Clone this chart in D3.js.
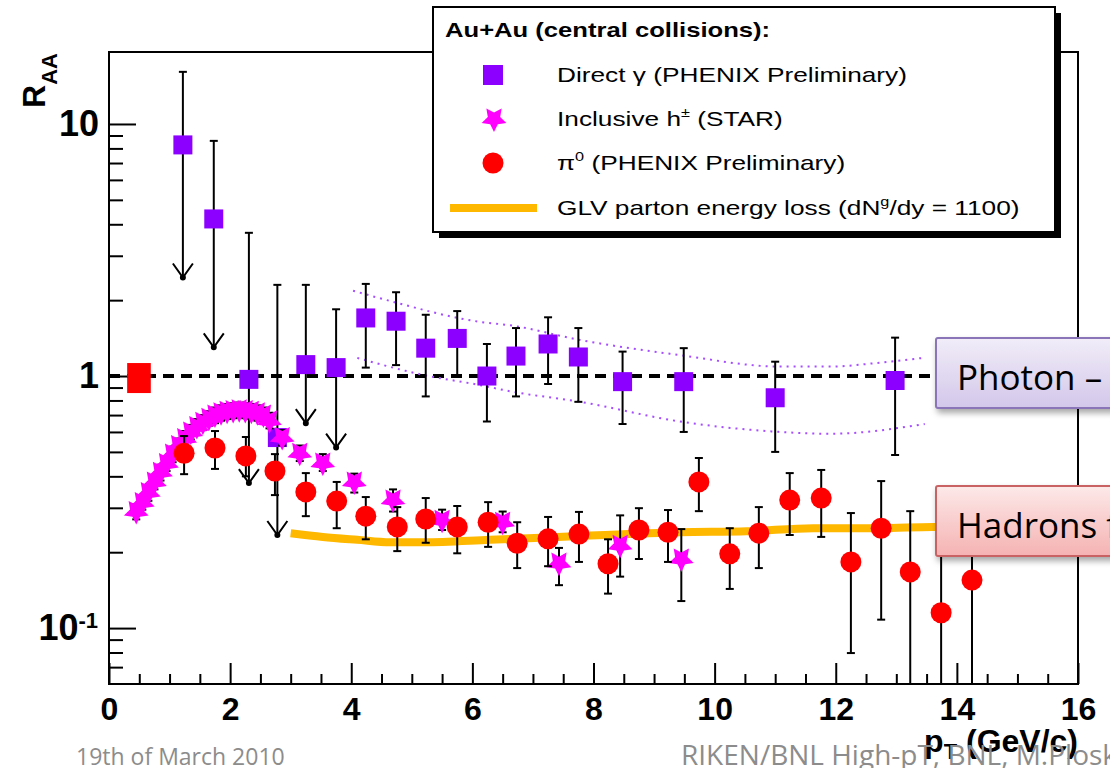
<!DOCTYPE html>
<html>
<head>
<meta charset="utf-8">
<script src="https://cdn.jsdelivr.net/npm/d3@7"></script>
<style>
  body { margin: 0; background: #fff; }
  svg { display: block; }
</style>
</head>
<body>
<svg id="chart" width="1110" height="768"></svg>
<script>
// ---- data ----
// direct photons (PHENIX prelim.), first 6 points are upper limits (arrow down)
var photonPt  = [1.22, 1.73, 2.31, 2.78, 3.25, 3.75, 4.24, 4.74, 5.23, 5.75, 6.24, 6.72, 7.25, 7.75, 8.48, 9.49, 11.0, 12.98];
var photonR   = [8.26, 4.2, 0.97, 0.57, 1.11, 1.08, 1.70, 1.65, 1.29, 1.41, 1.0, 1.20, 1.34, 1.19, 0.95, 0.95, 0.82, 0.96];
var photonHi  = [16.1, 8.57, 3.7, 2.30, 2.30, 1.84, 2.32, 2.15, 1.75, 1.81, 1.34, 1.55, 1.71, 1.55, 1.25, 1.29, 1.14, 1.42];
var photonLo  = [2.46, 1.30, 0.376, 0.234, 0.65, 0.52, 1.08, 1.105, 0.83, 1.0, 0.66, 0.83, 0.93, 0.79, 0.645, 0.60, 0.50, 0.486];
var photonLim = [1, 1, 1, 1, 1, 1, 0, 0, 0, 0, 0, 0, 0, 0, 0, 0, 0, 0];

// inclusive h+- (STAR)
var hPt = [0.45, 0.55, 0.65, 0.75, 0.85, 0.95, 1.05, 1.15, 1.25, 1.35, 1.45, 1.55, 1.65, 1.75, 1.85, 1.95, 2.05, 2.15, 2.25, 2.35, 2.45, 2.55, 2.65, 2.86,
           3.15, 3.53, 4.05, 4.69, 5.50, 6.5, 7.43, 8.44, 9.45];
var hR  = [0.29, 0.315, 0.345, 0.38, 0.415, 0.45, 0.49, 0.53, 0.565, 0.60, 0.63, 0.655, 0.68, 0.70, 0.715, 0.725, 0.73, 0.735, 0.73, 0.725, 0.715, 0.70, 0.665, 0.57,
           0.494, 0.452, 0.38, 0.322, 0.268, 0.263, 0.181, 0.213, 0.188];
var hHi = [0.31, 0.335, 0.37, 0.405, 0.445, 0.48, 0.525, 0.565, 0.605, 0.64, 0.675, 0.70, 0.725, 0.75, 0.765, 0.775, 0.78, 0.785, 0.78, 0.775, 0.765, 0.75, 0.715, 0.61,
           0.53, 0.49, 0.41, 0.355, 0.295, 0.29, 0.208, 0.28, 0.247];
var hLo = [0.27, 0.295, 0.32, 0.355, 0.385, 0.42, 0.455, 0.495, 0.525, 0.56, 0.585, 0.61, 0.635, 0.65, 0.665, 0.675, 0.68, 0.685, 0.68, 0.675, 0.665, 0.65, 0.62, 0.53,
           0.46, 0.42, 0.345, 0.29, 0.245, 0.24, 0.148, 0.16, 0.128];

// pi0 (PHENIX prelim.)
var pi0Pt = [1.24, 1.75, 2.26, 2.74, 3.25, 3.76, 4.24, 4.76, 5.23, 5.75, 6.26, 6.74, 7.25, 7.76, 8.24, 8.75, 9.23, 9.74, 10.25, 10.73, 11.24, 11.76, 12.25, 12.75, 13.23, 13.74, 14.25];
var pi0R  = [0.494, 0.518, 0.482, 0.42, 0.347, 0.319, 0.278, 0.252, 0.271, 0.252, 0.263, 0.217, 0.226, 0.236, 0.18, 0.245, 0.24, 0.38, 0.197, 0.238, 0.322, 0.328, 0.183, 0.249, 0.167, 0.115, 0.155];
var pi0Hi = [0.578, 0.605, 0.573, 0.49, 0.412, 0.38, 0.331, 0.302, 0.328, 0.305, 0.316, 0.263, 0.276, 0.289, 0.225, 0.299, 0.294, 0.473, 0.249, 0.302, 0.412, 0.424, 0.286, 0.383, 0.291, 0.22, 0.26];
var pi0Lo = [0.408, 0.428, 0.40, 0.337, 0.278, 0.249, 0.225, 0.202, 0.218, 0.198, 0.21, 0.173, 0.176, 0.183, 0.137, 0.188, 0.183, 0.291, 0.143, 0.173, 0.234, 0.23, 0.0796, 0.108, 0.03, 0.03, 0.03];

// GLV parton energy loss curve
var glvPt = [3.0, 3.53, 4.1, 4.64, 5.19, 6.29, 7.78, 9.43, 10.53, 11.63, 12.73, 13.6, 14.0];
var glvR  = [0.238, 0.23, 0.224, 0.219, 0.219, 0.224, 0.232, 0.24, 0.242, 0.249, 0.249, 0.252, 0.252];

// dotted photon band
var bandUpPt = [4.03, 4.59, 6.13, 6.62, 7.78, 9.43, 11.08, 11.9, 12.73, 13.44];
var bandUpR  = [2.18, 2.0, 1.64, 1.59, 1.39, 1.21, 1.09, 1.09, 1.13, 1.18];
var bandLoPt = [4.10, 5.19, 6.13, 6.62, 7.78, 9.43, 11.08, 11.9, 13.47];
var bandLoR  = [1.18, 1.01, 0.92, 0.87, 0.79, 0.66, 0.60, 0.59, 0.645];

// normalisation box at R=1
var normBox = {x0: 0.3, x1: 0.69, y0: 0.856, y1: 1.126};

var xMajorTicks = [0, 2, 4, 6, 8, 10, 12, 14, 16];
var xMinorTicks = [0.5, 1, 1.5, 2.5, 3, 3.5, 4.5, 5, 5.5, 6.5, 7, 7.5, 8.5, 9, 9.5, 10.5, 11, 11.5, 12.5, 13, 13.5, 14.5, 15, 15.5];
var yMajorTicks = [0.1, 1, 10];
var yMinorTicks = [0.07, 0.08, 0.09, 0.2, 0.3, 0.4, 0.5, 0.6, 0.7, 0.8, 0.9, 2, 3, 4, 5, 6, 7, 8, 9];

var svg = d3.select("#chart");
var pLeft = 109, pRight = 1078, pTop = 52, pBottom = 684;

var x = d3.scaleLinear().domain([0, 16]).range([pLeft, pRight]);
var y = d3.scaleLog().domain([0.06, 19.3]).range([pBottom, pTop]);

var cPurple = "#8c00ff", cMag = "#ff00ff", cRed = "#ff0000", cOrange = "#ffb800";

var defs = svg.append("defs");
defs.append("clipPath").attr("id", "plotclip")
  .append("rect").attr("x", pLeft).attr("y", pTop).attr("width", pRight - pLeft).attr("height", pBottom - pTop);
var sh = defs.append("filter").attr("id", "shadow").attr("x", "-10%").attr("y", "-20%").attr("width", "130%").attr("height", "160%");
sh.append("feDropShadow").attr("dx", 2).attr("dy", 4).attr("stdDeviation", 3).attr("flood-color", "#000").attr("flood-opacity", 0.35);
var gP = defs.append("linearGradient").attr("id", "gradPurple").attr("x1", 0).attr("y1", 0).attr("x2", 0).attr("y2", 1);
gP.append("stop").attr("offset", "0%").attr("stop-color", "#f1edf8");
gP.append("stop").attr("offset", "100%").attr("stop-color", "#d3c7ea");
var gR = defs.append("linearGradient").attr("id", "gradRed").attr("x1", 0).attr("y1", 0).attr("x2", 0).attr("y2", 1);
gR.append("stop").attr("offset", "0%").attr("stop-color", "#fde9e9");
gR.append("stop").attr("offset", "100%").attr("stop-color", "#f5b2b2");

// ---- axes (ticks point inward, ROOT style) ----
function styleAxis(g) {
  g.select(".domain").remove();
  g.selectAll(".tick line").attr("stroke", "#000").attr("stroke-width", 2);
  g.selectAll(".tick text").attr("fill", "#000").attr("font-family", "'Liberation Sans', Arial, sans-serif").attr("font-weight", "bold");
}
svg.append("g").attr("transform", "translate(0," + pBottom + ")")
  .call(d3.axisBottom(x).tickValues(xMinorTicks).tickSizeInner(-10).tickSizeOuter(0).tickFormat(""))
  .call(styleAxis);
svg.append("g").attr("transform", "translate(0," + pBottom + ")")
  .call(d3.axisBottom(x).tickValues(xMajorTicks).tickSizeInner(-21).tickSizeOuter(0).tickPadding(13).tickFormat(d3.format("d")))
  .call(styleAxis)
  .selectAll("text").attr("font-size", 32);
svg.append("g").attr("transform", "translate(" + pLeft + ",0)")
  .call(d3.axisLeft(y).tickValues(yMinorTicks).tickSizeInner(-14).tickSizeOuter(0).tickFormat(""))
  .call(styleAxis);
var yax = svg.append("g").attr("transform", "translate(" + pLeft + ",0)")
  .call(d3.axisLeft(y).tickValues(yMajorTicks).tickSizeInner(-27).tickSizeOuter(0).tickPadding(10).tickFormat(function(d) { return d >= 1 ? d3.format("d")(d) : ""; }))
  .call(styleAxis);
yax.selectAll("text").attr("font-size", 36);
yax.selectAll(".tick").filter(function(d) { return d < 1; }).select("text")
  .attr("x", -11)
  .call(function(t) {
    t.append("tspan").text("10");
    t.append("tspan").attr("font-size", 22).attr("dy", -12).text("-1");
  });

// ---- plot contents ----
var plot = svg.append("g").attr("clip-path", "url(#plotclip)");

plot.append("line")
  .attr("x1", x(0)).attr("x2", x(16)).attr("y1", y(1)).attr("y2", y(1))
  .attr("stroke", "#000").attr("stroke-width", 4).attr("stroke-dasharray", "11,7");

plot.append("rect")
  .attr("x", x(normBox.x0)).attr("width", x(normBox.x1) - x(normBox.x0))
  .attr("y", y(normBox.y1)).attr("height", y(normBox.y0) - y(normBox.y1))
  .attr("fill", cRed);

var bandLine = d3.line().x(function(d) { return x(d[0]); }).y(function(d) { return y(d[1]); }).curve(d3.curveMonotoneX);
[[bandUpPt, bandUpR], [bandLoPt, bandLoR]].forEach(function(b) {
  plot.append("path")
    .datum(d3.zip(b[0], b[1]))
    .attr("fill", "none").attr("stroke", "#a64dff").attr("stroke-width", 2)
    .attr("stroke-dasharray", "2,5").attr("d", bandLine);
});

plot.append("path")
  .datum(d3.zip(glvPt, glvR))
  .attr("fill", "none").attr("stroke", cOrange).attr("stroke-width", 8)
  .attr("d", bandLine);

function errorBars(pt, hi, lo, lim) {
  var g = plot.append("g").attr("stroke", "#000").attr("stroke-width", 2).attr("fill", "none");
  pt.forEach(function(p, i) {
    var px = x(p);
    g.append("line").attr("x1", px).attr("x2", px).attr("y1", y(hi[i])).attr("y2", y(lo[i]));
    g.append("line").attr("x1", px - 4).attr("x2", px + 4).attr("y1", y(hi[i])).attr("y2", y(hi[i]));
    if (lim && lim[i]) {
      var ty = y(lo[i]);
      g.append("path").attr("d", "M" + (px - 10) + "," + (ty - 14) + "L" + px + "," + ty + "L" + (px + 10) + "," + (ty - 14));
      g.append("circle").attr("cx", px).attr("cy", ty).attr("r", 2).attr("fill", "#000");
    } else {
      g.append("line").attr("x1", px - 4).attr("x2", px + 4).attr("y1", y(lo[i])).attr("y2", y(lo[i]));
    }
  });
}

// fat 5-point star like ROOT's full star marker, one tip pointing down
var fatStar = {
  draw: function(ctx, size) {
    var ro = Math.sqrt(size) / 2, ri = ro * 0.5;
    for (var k = 0; k < 10; k++) {
      var r = k % 2 ? ri : ro, a = Math.PI / 2 + k * Math.PI / 5;
      var px = r * Math.cos(a), py = r * Math.sin(a);
      if (k) ctx.lineTo(px, py); else ctx.moveTo(px, py);
    }
    ctx.closePath();
  }
};
var star = d3.symbol().type(fatStar).size(26 * 26);

// photons
errorBars(photonPt, photonHi, photonLo, photonLim);
plot.append("g").selectAll("rect").data(d3.zip(photonPt, photonR)).join("rect")
  .attr("x", function(d) { return x(d[0]) - 9.5; })
  .attr("y", function(d) { return y(d[1]) - 9.5; })
  .attr("width", 19).attr("height", 19).attr("fill", cPurple);

// charged hadrons
errorBars(hPt, hHi, hLo, null);
plot.append("g").selectAll("path").data(d3.zip(hPt, hR)).join("path")
  .attr("d", star)
  .attr("transform", function(d) { return "translate(" + x(d[0]) + "," + y(d[1]) + ")"; })
  .attr("fill", cMag);

// pi0
errorBars(pi0Pt, pi0Hi, pi0Lo, null);
plot.append("g").selectAll("circle").data(d3.zip(pi0Pt, pi0R)).join("circle")
  .attr("cx", function(d) { return x(d[0]); })
  .attr("cy", function(d) { return y(d[1]); })
  .attr("r", 10.5).attr("fill", cRed);

// frame
svg.append("rect").attr("x", pLeft).attr("y", pTop).attr("width", pRight - pLeft).attr("height", pBottom - pTop)
  .attr("fill", "none").attr("stroke", "#000").attr("stroke-width", 2);

// axis titles
var font = "'Liberation Sans', Arial, sans-serif";
var ytitle = svg.append("text").attr("transform", "translate(45,53) rotate(-90)")
  .attr("text-anchor", "end").attr("font-family", font).attr("font-weight", "bold").attr("font-size", 32);
ytitle.append("tspan").text("R");
ytitle.append("tspan").attr("font-size", 22).attr("dy", 12).text("AA");

var xtitle = svg.append("text").attr("x", 1078).attr("y", 752)
  .attr("text-anchor", "end").attr("font-family", font).attr("font-weight", "bold").attr("font-size", 32);
xtitle.append("tspan").text("p");
xtitle.append("tspan").attr("font-size", 22).attr("dy", 7).text("T");
xtitle.append("tspan").attr("dy", -7).text(" (GeV/c)");

// ---- legend ----
var leg = svg.append("g");
leg.append("rect").attr("x", 439).attr("y", 13).attr("width", 622).attr("height", 225).attr("fill", "#000");
leg.append("rect").attr("x", 433).attr("y", 7).attr("width", 622).attr("height", 225)
  .attr("fill", "#fff").attr("stroke", "#000").attr("stroke-width", 2);

function legText(yb, bold) {
  return leg.append("text")
    .attr("transform", "translate(" + (bold ? 445 : 557) + "," + yb + ") scale(1.25,1)")
    .attr("font-family", font).attr("font-size", bold ? 20.5 : 21)
    .attr("font-weight", bold ? "bold" : "normal").attr("fill", "#000");
}
legText(37, true).text("Au+Au (central collisions):");

leg.append("rect").attr("x", 483).attr("y", 65).attr("width", 20).attr("height", 20).attr("fill", cPurple);
legText(82, false).text("Direct γ (PHENIX Preliminary)");

leg.append("path").attr("d", star).attr("transform", "translate(494,119)").attr("fill", cMag);
var t2 = legText(126, false);
t2.append("tspan").text("Inclusive h");
t2.append("tspan").attr("font-size", 13).attr("dy", -9).text("±");
t2.append("tspan").attr("dy", 9).text(" (STAR)");

leg.append("circle").attr("cx", 493).attr("cy", 163).attr("r", 10.5).attr("fill", cRed);
var t3 = legText(170, false);
t3.append("tspan").text("π");
t3.append("tspan").attr("font-size", 13).attr("dy", -9).text("0");
t3.append("tspan").attr("dy", 9).text(" (PHENIX Preliminary)");

leg.append("line").attr("x1", 450).attr("x2", 537).attr("y1", 208).attr("y2", 208)
  .attr("stroke", cOrange).attr("stroke-width", 8);
var t4 = legText(215, false);
t4.append("tspan").text("GLV parton energy loss (dN");
t4.append("tspan").attr("font-size", 13).attr("dy", -9).text("g");
t4.append("tspan").attr("dy", 9).text("/dy = 1100)");

// ---- slide call-out boxes ----
var slideFont = "'Open Sans', 'Noto Sans', sans-serif";
[["Photon – no suppression", 338, "url(#gradPurple)", "#8b74b9"], ["Hadrons factor 5 suppression", 486, "url(#gradRed)", "#c96463"]].forEach(function(b) {
  svg.append("rect").attr("x", 936).attr("y", b[1]).attr("width", 300).attr("height", 70).attr("rx", 2)
    .attr("fill", b[2]).attr("stroke", b[3]).attr("stroke-width", 2).attr("filter", "url(#shadow)");
  svg.append("text").attr("x", 957).attr("y", b[1] + 52)
    .attr("font-family", slideFont).attr("font-size", 35).attr("fill", "#000").text(b[0]);
});

// ---- slide footer ----
svg.append("text").attr("x", 76).attr("y", 765).attr("font-family", slideFont).attr("font-size", 23)
  .attr("fill", "#8c8c8c").text("19th of March 2010");
svg.append("text").attr("x", 681).attr("y", 765).attr("font-family", slideFont).attr("font-size", 28)
  .attr("fill", "#8c8c8c").text("RIKEN/BNL High-pT, BNL, M.Ploskon");
</script>
</body>
</html>
